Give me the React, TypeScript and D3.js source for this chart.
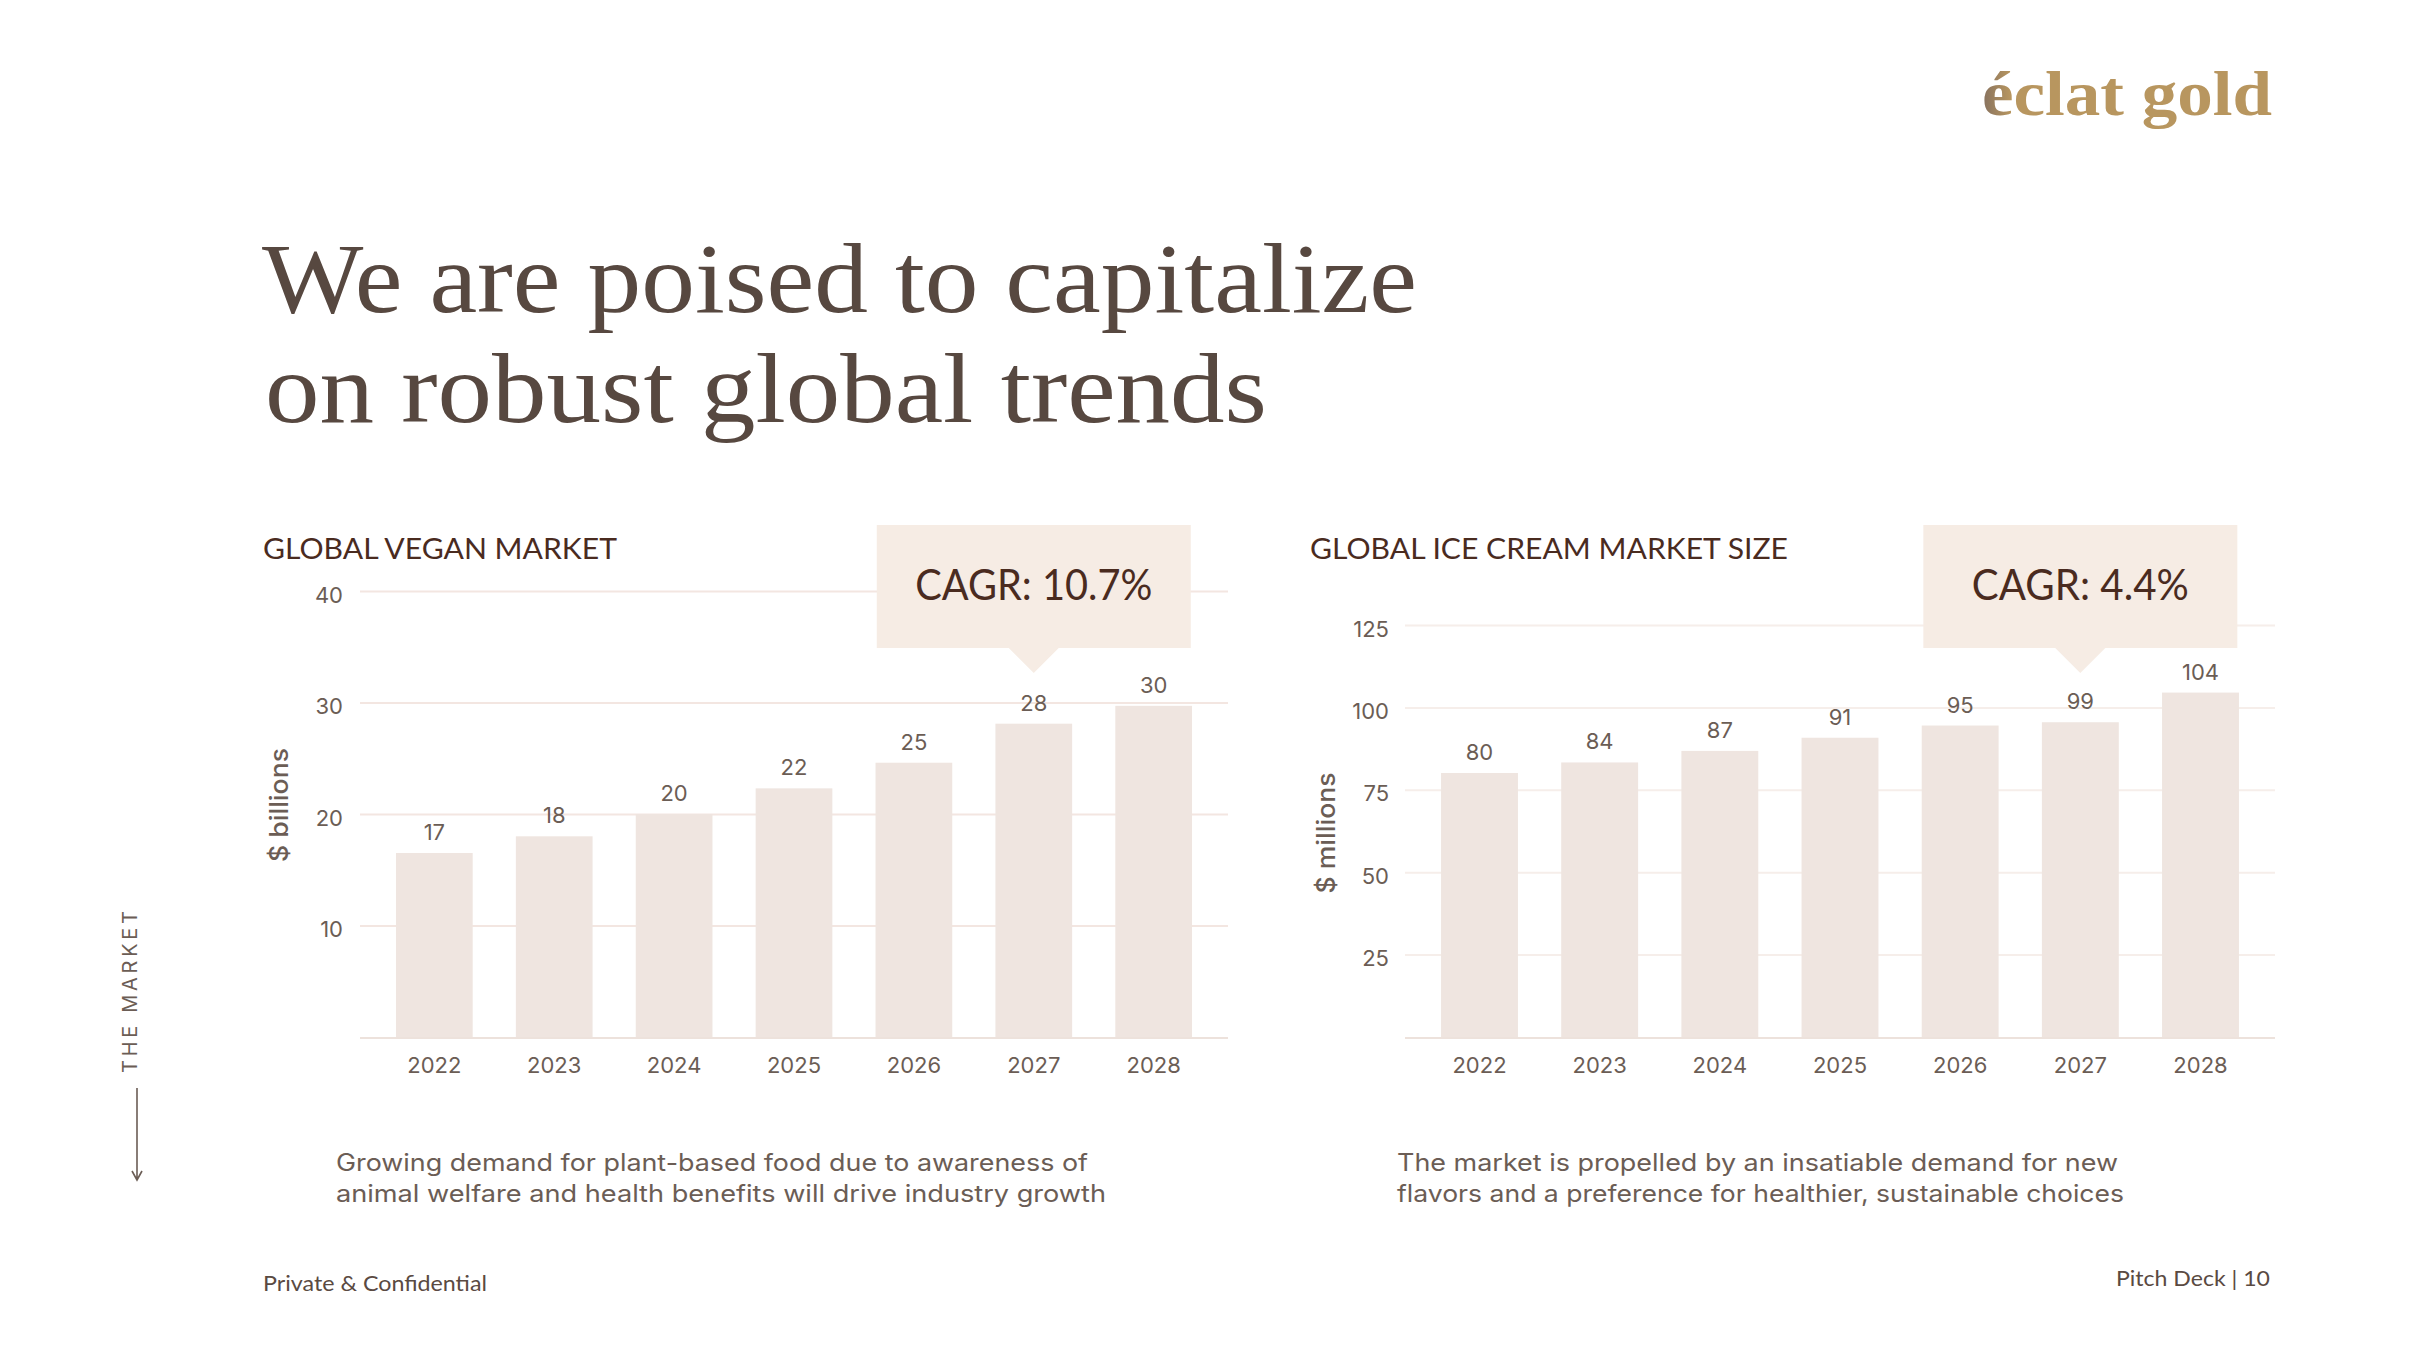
import React, { useEffect, useRef } from 'react'
import * as d3 from 'd3'

// ---- data ----
const years = ['2022', '2023', '2024', '2025', '2026', '2027', '2028']

const veganValues = [16.5, 18.0, 20.0, 22.3, 24.6, 28.1, 29.7]
const veganLabels = ['17', '18', '20', '22', '25', '28', '30']
const veganTicks = [10, 20, 30, 40]

const iceCreamValues = [80.1, 83.3, 86.8, 90.8, 94.5, 95.5, 104.5]
const iceCreamLabels = ['80', '84', '87', '91', '95', '99', '104']
const iceCreamTicks = [25, 50, 75, 100, 125]

const headline = ['We are poised to capitalize', 'on robust global trends']
const veganCaption = [
  'Growing demand for plant-based food due to awareness of',
  'animal welfare and health benefits will drive industry growth',
]
const iceCreamCaption = [
  'The market is propelled by an insatiable demand for new',
  'flavors and a preference for healthier, sustainable choices',
]

// ---- style ----
const SERIF = "'Liberation Serif', 'DejaVu Serif', serif"
const CAL = "Lato, 'Open Sans', sans-serif"
const MONT = "Inter, 'Noto Sans', sans-serif"
const dark = '#4a2b1f'
const gray = '#6b5d55'
const barFill = '#efe5e0'
const boxFill = '#f6ece4'

const W = 2422
const H = 1360
const BASE_Y = 1037

function drawChart(svg, o) {
  const g = svg.append('g')

  const x = d3
    .scaleBand()
    .domain(years)
    .range([o.x0, o.x1])
    .paddingInner(0.36)
    .paddingOuter(0.3)
  const y = d3.scaleLinear().domain([0, o.max]).range([BASE_Y, o.yTop])
  const bw = x.bandwidth()

  // gridlines + tick labels
  const grid = g
    .append('g')
    .attr('transform', `translate(${o.x0},0)`)
    .call(
      d3
        .axisLeft(y)
        .tickValues(o.ticks)
        .tickSize(-(o.x1 - o.x0))
        .tickPadding(o.tickPad)
    )
  grid.select('.domain').remove()
  grid.selectAll('line').attr('stroke', o.gridColor).attr('stroke-width', 2)
  grid
    .selectAll('text')
    .attr('fill', gray)
    .attr('dy', '0.5em')
    .style('font-family', MONT)
    .style('font-size', '22px')

  // baseline
  g.append('line')
    .attr('x1', o.x0)
    .attr('x2', o.x1)
    .attr('y1', y(0) + 1)
    .attr('y2', y(0) + 1)
    .attr('stroke', '#ede2dc')
    .attr('stroke-width', 2)

  // bars
  g.selectAll('.bar')
    .data(o.values)
    .enter()
    .append('rect')
    .attr('x', (d, i) => x(years[i]))
    .attr('y', (d) => y(d))
    .attr('width', bw)
    .attr('height', (d) => y(0) - y(d))
    .attr('fill', barFill)

  // value labels
  g.selectAll('.val')
    .data(o.values)
    .enter()
    .append('text')
    .attr('x', (d, i) => x(years[i]) + bw / 2)
    .attr('y', (d) => y(d) - 13)
    .attr('text-anchor', 'middle')
    .attr('fill', gray)
    .style('font-family', MONT)
    .style('font-size', '22px')
    .text((d, i) => o.labels[i])

  // x axis
  const xAxis = g
    .append('g')
    .attr('transform', `translate(0,${y(0)})`)
    .call(d3.axisBottom(x).tickSize(0).tickPadding(20))
  xAxis.select('.domain').remove()
  xAxis
    .selectAll('text')
    .attr('fill', gray)
    .style('font-family', MONT)
    .style('font-size', '22px')

  // chart title
  g.append('text')
    .attr('x', o.titleX)
    .attr('y', 559)
    .attr('textLength', o.titleW)
    .attr('lengthAdjust', 'spacingAndGlyphs')
    .attr('fill', dark)
    .style('font-family', CAL)
    .style('font-size', '29px')
    .text(o.title)

  // y axis title
  g.append('text')
    .attr('transform', `translate(${o.unitX},${o.unitY}) rotate(-90)`)
    .attr('text-anchor', 'middle')
    .attr('textLength', o.unitW)
    .attr('lengthAdjust', 'spacingAndGlyphs')
    .attr('fill', gray)
    .style('font-family', MONT)
    .style('font-size', '25px')
    .style('font-weight', 500)
    .text(o.unit)

  // CAGR callout pointing at 2027
  const cx = x('2027') + bw / 2
  const top = 525
  const bottom = 648
  g.append('rect')
    .attr('x', cx - 157)
    .attr('y', top)
    .attr('width', 314)
    .attr('height', bottom - top)
    .attr('fill', boxFill)
  g.append('path')
    .attr('d', `M${cx - 26},${bottom - 1}L${cx + 26},${bottom - 1}L${cx},${bottom + 25}Z`)
    .attr('fill', boxFill)
  g.append('text')
    .attr('x', cx)
    .attr('y', 600)
    .attr('text-anchor', 'middle')
    .attr('textLength', o.cagrW)
    .attr('lengthAdjust', 'spacingAndGlyphs')
    .attr('fill', dark)
    .style('font-family', CAL)
    .style('font-size', '43px')
    .text(o.cagr)

  // caption
  o.caption.forEach((line, i) => {
    g.append('text')
      .attr('x', o.capX)
      .attr('y', 1171 + i * 31)
      .attr('textLength', o.capW[i])
      .attr('lengthAdjust', 'spacingAndGlyphs')
      .attr('fill', gray)
      .style('font-family', MONT)
      .style('font-size', '24px')
      .text(line)
  })
}

export default function App() {
  const svgRef = useRef(null)

  useEffect(() => {
    document.body.style.margin = '0'
    const svg = d3.select(svgRef.current)
    svg.selectAll('*').remove()

    svg.append('rect').attr('width', W).attr('height', H).attr('fill', '#ffffff')

    // logo
    const defs = svg.append('defs')
    const grad = defs
      .append('linearGradient')
      .attr('id', 'logoGrad')
      .attr('x1', '0%')
      .attr('x2', '100%')
    grad.append('stop').attr('offset', '0%').attr('stop-color', '#86715f')
    grad.append('stop').attr('offset', '10%').attr('stop-color', '#b8965f')
    grad.append('stop').attr('offset', '100%').attr('stop-color', '#b8965f')
    svg
      .append('text')
      .attr('x', 1982)
      .attr('y', 115)
      .attr('textLength', 290)
      .attr('lengthAdjust', 'spacingAndGlyphs')
      .attr('fill', 'url(#logoGrad)')
      .style('font-family', SERIF)
      .style('font-weight', 700)
      .style('font-size', '64px')
      .text('éclat gold')

    // headline
    const headW = [1155, 1002]
    const headX = [262, 265]
    headline.forEach((line, i) => {
      svg
        .append('text')
        .attr('x', headX[i])
        .attr('y', 312 + i * 110)
        .attr('textLength', headW[i])
        .attr('lengthAdjust', 'spacingAndGlyphs')
        .attr('fill', '#574840')
        .style('font-family', SERIF)
        .style('font-size', '100px')
        .text(line)
    })

    drawChart(svg, {
      title: 'GLOBAL VEGAN MARKET',
      titleX: 263,
      titleW: 354,
      unit: '$ billions',
      unitX: 288,
      unitY: 805,
      unitW: 114,
      cagr: 'CAGR: 10.7%',
      cagrW: 237,
      values: veganValues,
      labels: veganLabels,
      ticks: veganTicks,
      max: 40,
      yTop: 591,
      x0: 360,
      x1: 1228,
      tickPad: 17,
      gridColor: '#f3e6e1',
      caption: veganCaption,
      capX: 336,
      capW: [752, 770],
    })

    drawChart(svg, {
      title: 'GLOBAL ICE CREAM MARKET SIZE',
      titleX: 1310,
      titleW: 478,
      unit: '$ millions',
      unitX: 1335,
      unitY: 833,
      unitW: 121,
      cagr: 'CAGR: 4.4%',
      cagrW: 217,
      values: iceCreamValues,
      labels: iceCreamLabels,
      ticks: iceCreamTicks,
      max: 125,
      yTop: 625,
      x0: 1405,
      x1: 2275,
      tickPad: 16,
      gridColor: '#f6eeea',
      caption: iceCreamCaption,
      capX: 1397,
      capW: [721, 727],
    })

    // side label + arrow
    svg
      .append('text')
      .attr('transform', 'translate(137,989) rotate(-90)')
      .attr('text-anchor', 'middle')
      .attr('textLength', 168)
      .attr('lengthAdjust', 'spacing')
      .attr('fill', gray)
      .style('font-family', MONT)
      .style('font-size', '20px')
      .style('letter-spacing', '6px')
      .text('THE MARKET')
    svg
      .append('path')
      .attr('d', 'M137,1088V1180M132,1171L137,1180L142,1171')
      .attr('fill', 'none')
      .attr('stroke', gray)
      .attr('stroke-width', 1.6)

    // footer
    svg
      .append('text')
      .attr('x', 263)
      .attr('y', 1291)
      .attr('textLength', 224)
      .attr('lengthAdjust', 'spacingAndGlyphs')
      .attr('fill', '#5a4a42')
      .style('font-family', CAL)
      .style('font-size', '21px')
      .text('Private & Confidential')
    svg
      .append('text')
      .attr('x', 2116)
      .attr('y', 1286)
      .attr('textLength', 154)
      .attr('lengthAdjust', 'spacingAndGlyphs')
      .attr('fill', '#5a4a42')
      .style('font-family', CAL)
      .style('font-size', '21px')
      .text('Pitch Deck | 10')
  }, [])

  return <svg ref={svgRef} width={W} height={H} style={{ display: 'block' }}></svg>
}
